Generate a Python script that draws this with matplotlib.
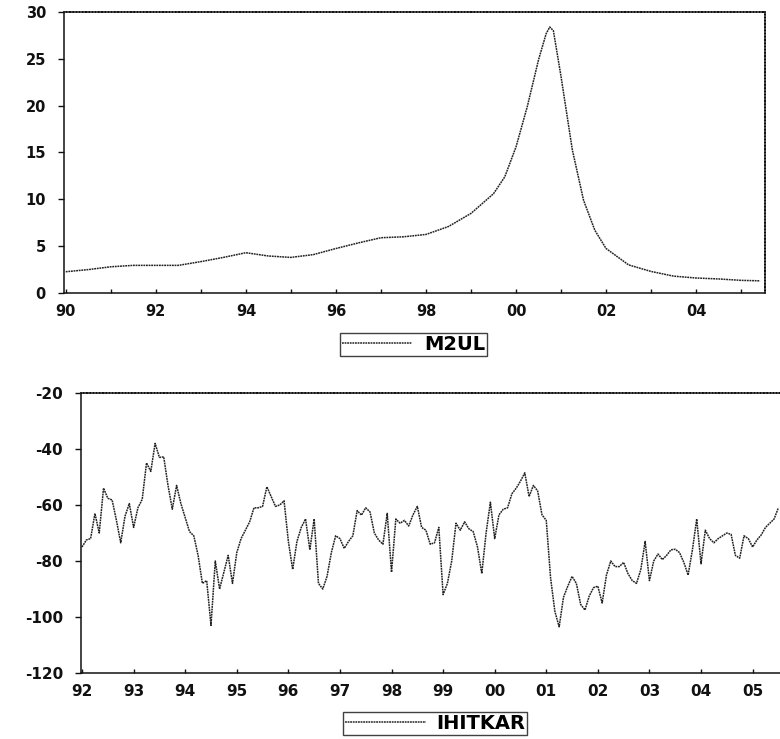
import matplotlib
matplotlib.use('Agg')
import matplotlib.pyplot as plt
import numpy as np

plt.rcParams['font.family'] = ['DejaVu Sans']
plt.rcParams['axes.unicode_minus'] = False

# --- M2UL (top panel) at irregular dates
m2_dates = [1990.0, 1990.5, 1991.0, 1991.5, 1992.0, 1992.5, 1993.0, 1993.5,
            1994.0, 1994.5, 1995.0, 1995.5, 1996.0, 1996.5, 1997.0, 1997.5,
            1998.0, 1998.5, 1999.0, 1999.5, 1999.75, 2000.0, 2000.25, 2000.5,
            2000.67, 2000.75, 2000.83, 2001.0, 2001.17, 2001.25, 2001.5,
            2001.75, 2002.0, 2002.5, 2003.0, 2003.5, 2004.0, 2004.5, 2005.0,
            2005.42]
m2_vals = [2.27, 2.5, 2.8, 2.95, 2.95, 2.95, 3.35, 3.8,
           4.3, 3.95, 3.8, 4.1, 4.75, 5.35, 5.9, 6.0,
           6.25, 7.1, 8.5, 10.6, 12.4, 15.6, 19.9, 24.9,
           27.7, 28.4, 28.0, 23.1, 17.8, 15.3, 9.9,
           6.7, 4.75, 3.0, 2.3, 1.8, 1.6, 1.5, 1.35,
           1.3]

# --- IHITKAR (bottom panel), monthly from 1992:01
ihitkar_start = 1992.0
ihitkar = [
    -75, -72.5, -72, -63, -70, -54, -57.6, -58.2, -65.5, -73.5,
    -64, -59.5, -68, -61, -58, -45, -48, -38, -43, -42.8,
    -53, -61.5, -53, -59.5, -64.5, -69.5, -71, -78, -88, -87,
    -103, -80, -90, -84, -78, -88, -77, -72, -69, -66,
    -61, -61,
    -60.5, -53.5, -57, -60.5, -60, -58.5, -73, -83, -73, -68,
    -65, -76, -65, -88, -90, -85.5, -77, -71, -72, -75.5,
    -73, -71, -62, -63.6, -61, -62.5, -70, -72.5, -74, -63,
    -84, -65, -66.5, -65.5, -67.5, -63.5, -60.5, -68, -69, -74,
    -73.5,
    -68, -92, -88, -80, -66.5, -69, -66, -68.5, -69.5, -75,
    -84.5, -70, -59, -72, -63.5, -61.5, -61, -56, -54, -51.5,
    -48.5, -57, -53, -55, -63.5, -65.5, -86, -98, -103.5, -93,
    -89, -85.5, -88, -95.5, -97.5, -92.5, -89.5, -89, -95, -85,
    -80,
    -82, -82, -80.5, -84.5, -87, -88, -83, -73, -87, -80,
    -77.5, -79.5, -78, -76, -75.8, -77, -80.5, -85, -76, -65,
    -81, -69, -72, -73.5, -72, -71, -70, -70.5, -78, -79,
    -71, -72, -75, -72.5, -70.7, -68, -66.5, -65, -61,
]
ihitkar_dates = ihitkar_start + np.arange(len(ihitkar)) / 12.0

top_xticks = [1990, 1992, 1994, 1996, 1998, 2000, 2002, 2004]
top_xlabels = ['90', '92', '94', '96', '98', '00', '02', '04']
top_yticks = [0, 5, 10, 15, 20, 25, 30]

bot_xticks = list(range(1992, 2006))
bot_xlabels = ['92', '93', '94', '95', '96', '97', '98', '99', '00', '01',
               '02', '03', '04', '05']
bot_yticks = [-120, -100, -80, -60, -40, -20]

W, H = 780, 739
fig = plt.figure(figsize=(W / 100, H / 100), dpi=100)
fig.patch.set_facecolor('white')

line_kw = dict(color='#222222', lw=1.1, linestyle=(0, (1.2, 0.5)))


def style_axes(ax, fs):
    for s in ax.spines.values():
        s.set_linewidth(1.1)
        s.set_color('#111111')
    ax.spines['top'].set_linestyle((0, (1.5, 0.6)))
    ax.spines['right'].set_linestyle((0, (1.5, 0.6)))
    ax.tick_params(axis='y', which='both', labelsize=fs, length=4, width=1,
                   colors='#111111', pad=9)
    ax.tick_params(axis='x', which='both', labelsize=fs, direction='in',
                   length=3, width=1, colors='#111111', pad=8)
    for lab in ax.get_xticklabels() + ax.get_yticklabels():
        lab.set_fontweight('bold')


# top panel
ax1 = fig.add_axes([64 / W, 1 - 293 / H, 701 / W, 281 / H])
ax1.plot(m2_dates, m2_vals, label='M2UL', **line_kw)
ax1.set_xlim(1989.96, 2005.53)
ax1.set_ylim(0, 30)
ax1.set_xticks(top_xticks)
ax1.set_xticklabels(top_xlabels)
ax1.set_xticks(range(1990, 2006), minor=True)
ax1.set_yticks(top_yticks)
style_axes(ax1, 10.5)
ax1.legend(loc='upper center', bbox_to_anchor=(0.4986, -0.142), frameon=True,
           fancybox=False, edgecolor='#111111', handlelength=3.6,
           borderpad=0.1, handletextpad=0.6, borderaxespad=0,
           prop={'weight': 'bold', 'size': 14})

# bottom panel
ax2 = fig.add_axes([81 / W, 1 - 673 / H, 701 / W, 280 / H])
ax2.plot(ihitkar_dates, ihitkar, label='IHITKAR', **line_kw)
ax2.set_xlim(1991.98, 2005.57)
ax2.set_ylim(-120, -20)
ax2.set_xticks(bot_xticks)
ax2.set_xticklabels(bot_xlabels)
ax2.set_yticks(bot_yticks)
style_axes(ax2, 11)
ax2.legend(loc='upper center', bbox_to_anchor=(0.505, -0.139), frameon=True,
           fancybox=False, edgecolor='#111111', handlelength=4.2,
           borderpad=0.1, handletextpad=0.5, borderaxespad=0,
           prop={'weight': 'bold', 'size': 14})

fig.savefig('out.png', dpi=100, facecolor='white')
